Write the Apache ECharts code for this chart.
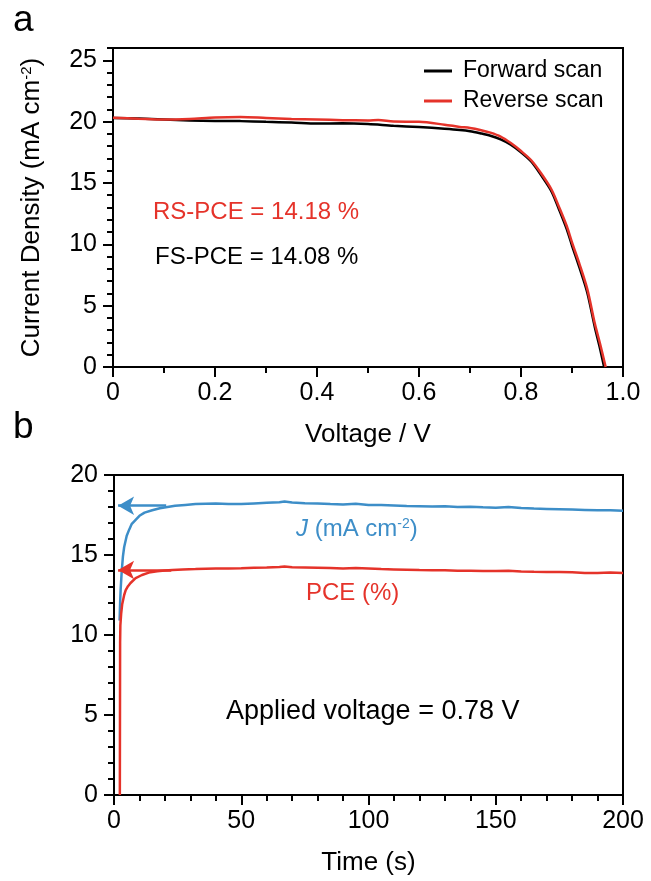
<!DOCTYPE html>
<html><head><meta charset="utf-8">
<script src="https://cdn.jsdelivr.net/npm/echarts@6/dist/echarts.min.js"></script>
<style>html,body{margin:0;padding:0;background:#fff}#c{width:651px;height:881px}</style>
</head><body><div id="c"></div>
<script>
const FONT = '"Liberation Sans", Arial, Helvetica, sans-serif';
const RED = '#e5332a';
const BLUE = '#3d8ec8';

// Panel a: J-V curves
const voltageTicks = [0, 0.2, 0.4, 0.6, 0.8, 1.0];
const densityTicks = [0, 5, 10, 15, 20, 25];
const fwdV = [0, 0.05, 0.10, 0.15, 0.20, 0.25, 0.30, 0.35, 0.40, 0.45, 0.50, 0.55, 0.60, 0.65, 0.68, 0.70, 0.72, 0.74, 0.76, 0.78, 0.80, 0.82, 0.84, 0.86, 0.875, 0.89, 0.90, 0.915, 0.93, 0.945, 0.955, 0.963];
const fwdJ = [20.30, 20.25, 20.18, 20.10, 20.06, 20.04, 19.98, 19.93, 19.84, 19.86, 19.80, 19.66, 19.56, 19.42, 19.32, 19.22, 19.05, 18.85, 18.55, 18.12, 17.50, 16.75, 15.60, 14.30, 12.80, 11.20, 9.90, 8.05, 6.05, 3.20, 1.50, 0.00];
const revV = [0, 0.05, 0.10, 0.15, 0.20, 0.25, 0.30, 0.35, 0.40, 0.45, 0.50, 0.52, 0.55, 0.60, 0.65, 0.68, 0.70, 0.72, 0.74, 0.76, 0.78, 0.80, 0.82, 0.84, 0.86, 0.875, 0.89, 0.90, 0.915, 0.93, 0.945, 0.955, 0.966];
const revJ = [20.32, 20.24, 20.17, 20.22, 20.34, 20.38, 20.30, 20.22, 20.18, 20.12, 20.10, 20.14, 20.00, 19.98, 19.75, 19.57, 19.48, 19.32, 19.10, 18.78, 18.25, 17.60, 16.85, 15.75, 14.45, 13.00, 11.45, 10.15, 8.35, 6.35, 3.50, 1.90, 0.00];

// Panel b: steady-state output
const timeTicks = [0, 50, 100, 150, 200];
const timeJ = [2.2, 2.4, 2.6, 3.0, 3.5, 4.0, 5, 6, 7, 8.5, 10, 12, 15, 18, 21, 24, 28, 32, 36, 40, 45, 50, 55, 60, 65, 67, 70, 75, 80, 85, 90, 95, 100, 105, 110, 115, 120, 125, 130, 135, 140, 145, 150, 155, 160, 165, 170, 175, 180, 185, 190, 195, 200];
const currentJ = [10.9, 12.0, 12.8, 13.9, 14.9, 15.5, 16.2, 16.6, 16.95, 17.2, 17.45, 17.65, 17.8, 17.92, 18.0, 18.08, 18.13, 18.18, 18.2, 18.22, 18.19, 18.18, 18.22, 18.26, 18.3, 18.34, 18.28, 18.24, 18.22, 18.18, 18.16, 18.2, 18.13, 18.12, 18.1, 18.06, 18.05, 18.03, 18.04, 18.0, 18.02, 17.98, 17.96, 18.0, 17.93, 17.9, 17.88, 17.86, 17.84, 17.82, 17.8, 17.79, 17.77];
const timeP = [2.3, 2.35, 2.4, 2.5, 2.8, 3.2, 4.0, 4.6, 5.5, 6.5, 8.5, 11, 13.7, 17, 20, 23, 27, 32, 36, 40, 45, 50, 55, 60, 65, 67, 70, 75, 80, 85, 90, 95, 100, 105, 110, 115, 120, 125, 130, 135, 140, 145, 150, 155, 160, 165, 170, 175, 180, 185, 190, 195, 200];
const pce = [0, 5, 9.5, 10.6, 11.3, 11.9, 12.5, 12.8, 13.05, 13.25, 13.55, 13.75, 13.9, 13.98, 14.03, 14.06, 14.1, 14.12, 14.14, 14.15, 14.16, 14.17, 14.2, 14.22, 14.25, 14.28, 14.24, 14.22, 14.2, 14.18, 14.16, 14.18, 14.15, 14.12, 14.1, 14.08, 14.06, 14.05, 14.04, 14.02, 14.02, 14.0, 14.0, 14.01, 13.97, 13.95, 13.94, 13.93, 13.92, 13.88, 13.88, 13.9, 13.88];
const arrowJFrom = [20.5, 18.08];
const arrowJTo = [1.6, 18.08];
const arrowPFrom = [22.5, 14.06];
const arrowPTo = [1.6, 14.06];

const zip = (xs, ys) => xs.map((x, i) => [x, ys[i]]);

const axisLineStyle = { show: true, lineStyle: { color: '#000', width: 2 } };
const tickStyle = { color: '#000', width: 2 };
const labelStyle = { color: '#000', fontSize: 25, fontFamily: FONT };
const nameStyle = { color: '#000', fontSize: 26, fontFamily: FONT };

const option = {
  backgroundColor: '#fff',
  animation: false,
  grid: [
    { left: 113, top: 48, width: 510, height: 319, show: true, borderColor: '#000', borderWidth: 2, backgroundColor: 'transparent' },
    { left: 114, top: 475, width: 509, height: 320, show: true, borderColor: '#000', borderWidth: 2, backgroundColor: 'transparent' }
  ],
  legend: {
    data: ['Forward scan', 'Reverse scan'],
    orient: 'vertical', left: 424, top: 58, padding: 0,
    icon: 'rect', itemWidth: 28, itemHeight: 3, itemGap: 4,
    textStyle: { color: '#000', fontSize: 23, fontFamily: FONT, lineHeight: 26, padding: [0, 0, 0, 6] }
  },
  xAxis: [
    {
      gridIndex: 0, type: 'value', min: 0, max: 1, interval: 0.2, position: 'bottom',
      axisLine: axisLineStyle,
      axisTick: { show: true, length: 10, lineStyle: tickStyle },
      minorTick: { show: true, splitNumber: 2, length: 6, lineStyle: tickStyle },
      splitLine: { show: false }, minorSplitLine: { show: false },
      axisLabel: Object.assign({ margin: 14, formatter: v => v === 0 ? '0' : v.toFixed(1) }, labelStyle),
      name: 'Voltage / V', nameLocation: 'middle', nameGap: 55, nameTextStyle: nameStyle
    },
    {
      gridIndex: 1, type: 'value', min: 0, max: 200, interval: 50, position: 'bottom',
      axisLine: axisLineStyle,
      axisTick: { show: true, length: 10, lineStyle: tickStyle },
      minorTick: { show: true, splitNumber: 5, length: 6, lineStyle: tickStyle },
      splitLine: { show: false }, minorSplitLine: { show: false },
      axisLabel: Object.assign({ margin: 14 }, labelStyle),
      name: 'Time (s)', nameLocation: 'middle', nameGap: 55, nameTextStyle: nameStyle
    }
  ],
  yAxis: [
    {
      gridIndex: 0, type: 'value', min: 0, max: 26, interval: 1, position: 'left',
      axisLine: axisLineStyle,
      axisTick: { show: true, length: 6, lineStyle: tickStyle },
      axisLabel: { show: false }, splitLine: { show: false }
    },
    {
      gridIndex: 0, type: 'value', min: 0, max: 26, interval: 5, position: 'left', offset: 0,
      axisLine: { show: false },
      axisTick: { show: true, length: 10, lineStyle: tickStyle, customValues: densityTicks },
      axisLabel: Object.assign({ margin: 16, customValues: densityTicks }, labelStyle),
      splitLine: { show: false },
      name: 'Current Density (mA cm{s|-2})', nameLocation: 'middle', nameGap: 68,
      nameTextStyle: Object.assign({ rich: { s: { fontSize: 15, verticalAlign: 'top', color: '#000', fontFamily: FONT } } }, nameStyle)
    },
    {
      gridIndex: 1, type: 'value', min: 0, max: 20, interval: 5, position: 'left',
      axisLine: axisLineStyle,
      axisTick: { show: true, length: 10, lineStyle: tickStyle },
      minorTick: { show: true, splitNumber: 5, length: 6, lineStyle: tickStyle },
      splitLine: { show: false }, minorSplitLine: { show: false },
      axisLabel: Object.assign({ margin: 16 }, labelStyle)
    }
  ],
  series: [
    {
      name: 'Forward scan', type: 'line', xAxisIndex: 0, yAxisIndex: 0,
      data: zip(fwdV, fwdJ), symbol: 'none', smooth: 0.3,
      lineStyle: { color: '#000', width: 2.5 }, itemStyle: { color: '#000' }
    },
    {
      name: 'Reverse scan', type: 'line', xAxisIndex: 0, yAxisIndex: 0,
      data: zip(revV, revJ), symbol: 'none', smooth: 0.3,
      lineStyle: { color: RED, width: 2.5 }, itemStyle: { color: RED }
    },
    {
      name: 'J', type: 'line', xAxisIndex: 1, yAxisIndex: 2,
      data: zip(timeJ, currentJ), symbol: 'none',
      lineStyle: { color: BLUE, width: 2.5 }, itemStyle: { color: BLUE },
      markLine: {
        silent: true, symbol: ['none', 'arrow'], symbolSize: [14, 16],
        label: { show: false },
        lineStyle: { color: BLUE, width: 2.5, type: 'solid' },
        data: [[{ coord: arrowJFrom }, { coord: arrowJTo }]]
      }
    },
    {
      name: 'PCE', type: 'line', xAxisIndex: 1, yAxisIndex: 2,
      data: zip(timeP, pce), symbol: 'none',
      lineStyle: { color: RED, width: 2.5 }, itemStyle: { color: RED },
      markLine: {
        silent: true, symbol: ['none', 'arrow'], symbolSize: [14, 16],
        label: { show: false },
        lineStyle: { color: RED, width: 2.5, type: 'solid' },
        data: [[{ coord: arrowPFrom }, { coord: arrowPTo }]]
      }
    }
  ],
  graphic: [
    { type: 'text', left: 13, top: 2, style: { text: 'a', fontSize: 37, fontFamily: FONT, fill: '#000' } },
    { type: 'text', left: 13, top: 409, style: { text: 'b', fontSize: 37, fontFamily: FONT, fill: '#000' } },
    { type: 'text', x: 153, y: 212, style: { text: 'RS-PCE = 14.18 %', fontSize: 24, fontFamily: FONT, fill: RED, verticalAlign: 'middle' } },
    { type: 'text', x: 155, y: 257, style: { text: 'FS-PCE = 14.08 %', fontSize: 24, fontFamily: FONT, fill: '#000', verticalAlign: 'middle' } },
    { type: 'text', x: 296, y: 529, style: {
        text: '{i|J} (mA cm{s|-2})', fontSize: 24, fontFamily: FONT, fill: BLUE, verticalAlign: 'middle',
        rich: { i: { fontStyle: 'italic', fontSize: 24, fontFamily: FONT, fill: BLUE }, s: { fontSize: 14, fontFamily: FONT, fill: BLUE, verticalAlign: 'top' } }
    } },
    { type: 'text', x: 306, y: 593, style: { text: 'PCE (%)', fontSize: 24, fontFamily: FONT, fill: RED, verticalAlign: 'middle' } },
    { type: 'text', x: 226, y: 712, style: { text: 'Applied voltage = 0.78 V', fontSize: 27, fontFamily: FONT, fill: '#000', verticalAlign: 'middle' } }
  ]
};

const chart = echarts.init(document.getElementById('c'), null, { renderer: 'canvas' });
chart.setOption(option);
</script>
</body></html>
